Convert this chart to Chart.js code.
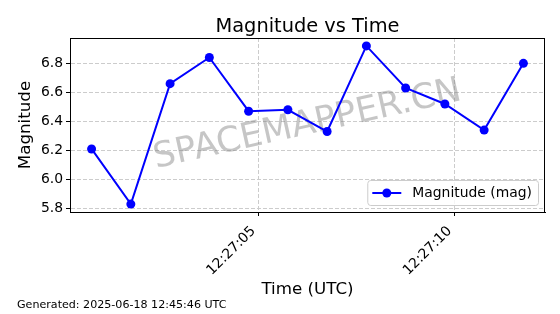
<!DOCTYPE html>
<html>
<head>
<meta charset="utf-8">
<script src="https://cdn.jsdelivr.net/npm/chart.js@4"></script>
<style>
  html, body { margin: 0; padding: 0; background: #fff; }
  #wrap { width: 560px; height: 314px; }
</style>
</head>
<body>
<div id="wrap"><canvas id="myChart" width="560" height="314"></canvas></div>
<script>
// data
var times = ['12:27:00.75', '12:27:01.75', '12:27:02.75', '12:27:03.75', '12:27:04.75', '12:27:05.75',
             '12:27:06.75', '12:27:07.75', '12:27:08.75', '12:27:09.75', '12:27:10.75', '12:27:11.75'];
var magnitudes = [6.21, 5.83, 6.66, 6.84, 6.47, 6.48, 6.33, 6.92, 6.63, 6.52, 6.34, 6.80];
var xTickLabels = ['12:27:05', '12:27:10'];
var yTickLabels = ['5.8', '6.0', '6.2', '6.4', '6.6', '6.8'];
var seriesLabel = 'Magnitude (mag)';
var chartTitle = 'Magnitude vs Time';
var footerText = 'Generated: 2025-06-18 12:45:46 UTC';
var watermark = 'SPACEMAPPER.CN';

var FONT = '"DejaVu Sans", "Liberation Sans", sans-serif';

function toSeconds(t) {
    var p = t.split(':');
    return (+p[0]) * 3600 + (+p[1]) * 60 + parseFloat(p[2]);
}

var points = times.map(function (t, i) {
    return { x: toSeconds(t), y: magnitudes[i] };
});
var xTickValues = xTickLabels.map(toSeconds);
var yTickValues = yTickLabels.map(parseFloat);

// matplotlib-like 5% margins
function limits(vals) {
    var lo = Math.min.apply(null, vals), hi = Math.max.apply(null, vals);
    var m = (hi - lo) * 0.05;
    return [lo - m, hi + m];
}
var xLim = limits(points.map(function (p) { return p.x; }));
var yLim = limits(magnitudes);

var decor = {
    id: 'decor',
    beforeDatasetsDraw: function (chart) {
        var ctx = chart.ctx, a = chart.chartArea;
        ctx.save();
        ctx.translate((a.left + a.right) / 2, (a.top + a.bottom) / 2);
        ctx.rotate(-12.5 * Math.PI / 180);
        ctx.font = '35px ' + FONT;
        ctx.fillStyle = 'rgba(128,128,128,0.45)';
        ctx.textAlign = 'center';
        ctx.textBaseline = 'middle';
        ctx.fillText(watermark, 0, 0);
        ctx.restore();
    },
    afterDraw: function (chart) {
        var ctx = chart.ctx, a = chart.chartArea;
        ctx.save();
        // frame
        ctx.strokeStyle = '#000';
        ctx.lineWidth = 1;
        ctx.strokeRect(Math.round(a.left) + 0.5, Math.round(a.top) + 0.5,
            Math.round(a.right - a.left) - 1, Math.round(a.bottom - a.top));

        // title
        ctx.fillStyle = '#000';
        ctx.font = '19.4px ' + FONT;
        ctx.textAlign = 'center';
        ctx.textBaseline = 'alphabetic';
        ctx.fillText(chartTitle, (a.left + a.right) / 2, 32);

        // footer
        ctx.font = '11.1px ' + FONT;
        ctx.textAlign = 'left';
        ctx.fillText(footerText, 17, 308);

        // legend, lower right inside the axes
        var ds = chart.data.datasets[0];
        ctx.font = '13.9px ' + FONT;
        var tw = ctx.measureText(ds.label).width;
        var w = 5 + 29 + 11 + tw + 6, h = 25;
        var x = a.right - 7 - w, y = a.bottom - 7 - h;
        ctx.beginPath();
        ctx.roundRect(x + 0.5, y + 0.5, w, h, 3);
        ctx.fillStyle = 'rgba(255,255,255,0.8)';
        ctx.fill();
        ctx.strokeStyle = '#cccccc';
        ctx.stroke();
        var cy = y + h / 2 + 0.5;
        ctx.strokeStyle = ds.borderColor;
        ctx.lineWidth = 2;
        ctx.beginPath();
        ctx.moveTo(x + 5, cy);
        ctx.lineTo(x + 34, cy);
        ctx.stroke();
        ctx.fillStyle = ds.pointBackgroundColor;
        ctx.beginPath();
        ctx.arc(x + 19.5, cy, ds.pointRadius, 0, Math.PI * 2);
        ctx.fill();
        ctx.fillStyle = '#000';
        ctx.textBaseline = 'middle';
        ctx.fillText(ds.label, x + 45, cy);
        ctx.restore();
    }
};

var ctxChart = document.getElementById('myChart');
var myChart = new Chart(ctxChart, {
    type: 'line',
    data: {
        datasets: [{
            label: seriesLabel,
            data: points,
            borderColor: '#0000ff',
            backgroundColor: '#0000ff',
            pointBackgroundColor: '#0000ff',
            pointBorderColor: '#0000ff',
            borderWidth: 2,
            pointRadius: 4.5,
            pointBorderWidth: 0,
            tension: 0,
            fill: false
        }]
    },
    options: {
        responsive: false,
        animation: false,
        devicePixelRatio: 1,
        layout: { padding: { top: 38, right: 15, left: 0, bottom: 0 } },
        plugins: {
            legend: { display: false },
            title: { display: false },
            tooltip: { enabled: false }
        },
        scales: {
            x: {
                type: 'linear',
                min: xLim[0],
                max: xLim[1],
                afterBuildTicks: function (s) {
                    s.ticks = xTickValues.map(function (v) { return { value: v }; });
                },
                afterFit: function (s) { s.height = 102; },
                ticks: {
                    minRotation: 45,
                    maxRotation: 45,
                    color: '#000',
                    padding: 7,
                    labelOffset: -5,
                    font: { family: FONT, size: 13.9 },
                    callback: function (v, i) { return xTickLabels[i]; }
                },
                grid: { color: '#cccccc', lineWidth: 1, tickLength: 4, tickColor: '#000', tickWidth: 1 },
                border: { display: true, color: '#000', width: 1, dash: [4, 2] },
                title: {
                    display: true, text: 'Time (UTC)', color: '#000',
                    font: { family: FONT, size: 16.7 },
                    padding: { top: 0, bottom: 14 }
                }
            },
            y: {
                type: 'linear',
                min: yLim[0],
                max: yLim[1],
                afterBuildTicks: function (s) {
                    s.ticks = yTickValues.map(function (v) { return { value: v }; });
                },
                afterFit: function (s) { s.width = 70; },
                ticks: {
                    color: '#000',
                    padding: 3,
                    font: { family: FONT, size: 13.9 },
                    callback: function (v, i) { return yTickLabels[i]; }
                },
                grid: { color: '#cccccc', lineWidth: 1, tickLength: 4, tickColor: '#000', tickWidth: 1 },
                border: { display: true, color: '#000', width: 1, dash: [4, 2] },
                title: {
                    display: true, text: 'Magnitude', color: '#000',
                    font: { family: FONT, size: 16.7 },
                    padding: { top: 15.5, bottom: 0 }
                }
            }
        }
    },
    plugins: [decor]
});
</script>
</body>
</html>
